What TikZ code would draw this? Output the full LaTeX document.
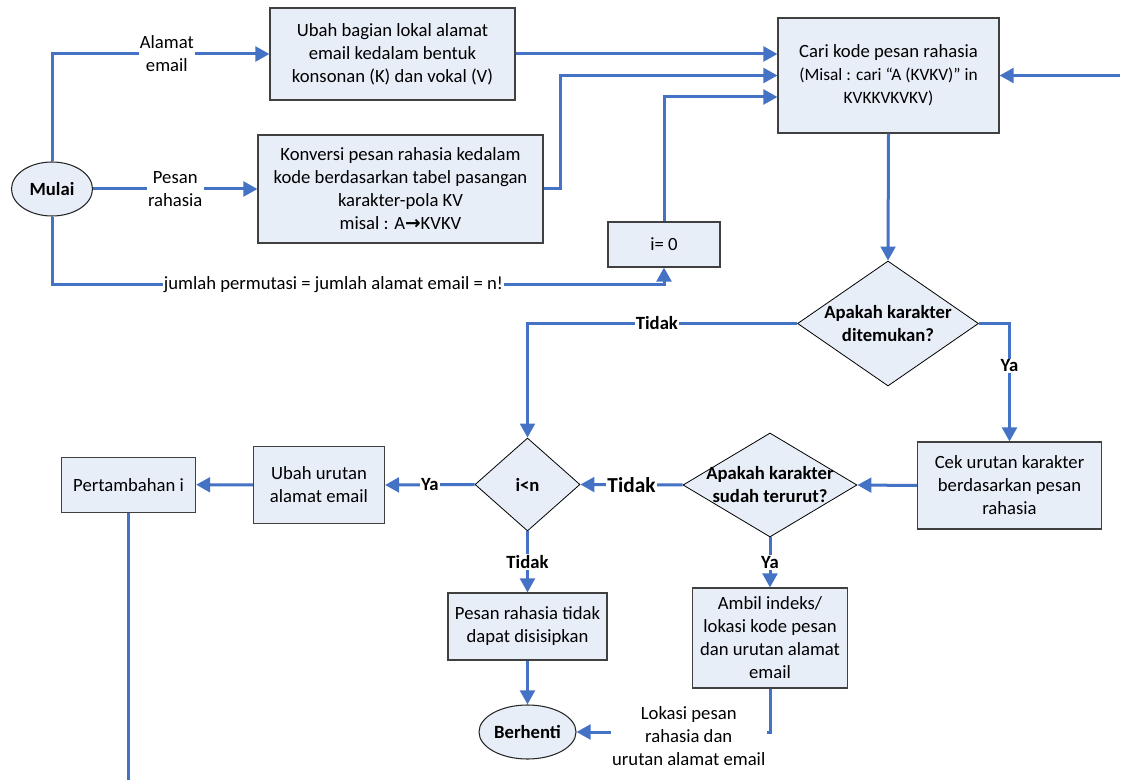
\documentclass[tikz,border=0pt]{standalone}
\usepackage{fontspec}
\setmainfont{Carlito}
\newfontfamily\symfont{DejaVu Sans}
\usetikzlibrary{arrows.meta,shapes.geometric,calc}
\definecolor{flowblue}{RGB}{68,114,196}
\definecolor{boxfill}{RGB}{232,238,248}
\tikzset{
  txt/.style={font=\fontsize{14}{17.25}\selectfont, align=center},
  procbox/.style={txt, draw=black!75, line width=0.8pt, fill=boxfill, inner sep=0pt},
  terminal/.style={txt, ellipse, draw=black!85, line width=0.8pt, fill=boxfill, inner sep=0pt, font=\fontsize{14}{17.25}\selectfont\bfseries},
  decision/.style={diamond, draw=black, line width=0.6pt, fill=boxfill, inner sep=0pt},
  dtext/.style={txt, font=\fontsize{14}{17.25}\selectfont\bfseries},
  wh/.style 2 args={minimum width=#1*0.75pt, minimum height=#2*0.75pt},
  flow/.style={draw=flowblue, line width=2.25pt, -{Triangle[length=10.5pt,width=11pt]}},
  plain/.style={draw=flowblue, line width=2.25pt},
  lbl/.style={txt, fill=white, inner sep=1pt},
  yn/.style={lbl, font=\fontsize{14}{17.25}\selectfont\bfseries},
}
\begin{document}
\begin{tikzpicture}[x=0.75pt,y=-0.75pt]
	\useasboundingbox (0,0) rectangle (1132,780);
	%Nodes
	\node[terminal, wh={81}{54}] (mulai) at (52,189) {Mulai};
	\node[procbox, wh={245}{92}] (ubahlokal) at (392.5,54) {Ubah bagian lokal alamat\\email kedalam bentuk\\konsonan (K) dan vokal (V)};
	\node[procbox, wh={285}{108}] (konversi) at (400.5,189) {Konversi pesan rahasia kedalam\\kode berdasarkan tabel pasangan\\karakter-pola KV\\misal : A{\symfont\bfseries →}KVKV};
	\node[procbox, wh={112}{45}] (izero) at (664,244.5) {i= 0};
	\node[procbox, wh={221}{115}] (cari) at (888.5,75.5) {Cari kode pesan rahasia\\{\fontsize{13}{16}\selectfont (Misal : cari “A (KVKV)” in}\\{\fontsize{13}{16}\selectfont KVKKVKVKV)}};
	\node[decision, wh={181}{125}] (found) at (888,323.5) {};
	\node[dtext] (foundtxt) at (found) {Apakah karakter\\ditemukan?};
	\node[procbox, wh={184}{87}] (cek) at (1009.5,485.5) {Cek urutan karakter\\berdasarkan pesan\\rahasia};
	\node[decision, wh={174}{104}] (sorted) at (770,485) {};
	\node[dtext] (sortedtxt) at (sorted) {Apakah karakter\\sudah terurut?};
	\node[procbox, wh={155.5}{100}] (ambil) at (770,638) {Ambil indeks/\\lokasi kode pesan\\dan urutan alamat\\email};
	\node[decision, wh={105}{93}] (ilessn) at (527.5,484.5) {};
	\node[dtext] (ilessntxt) at (ilessn) {i<n};
	\node[procbox, wh={131}{77}] (ubahurutan) at (319,485) {Ubah urutan\\alamat email};
	\node[procbox, wh={134}{55}] (tambah) at (128.6,484.7) {Pertambahan i};
	\node[procbox, wh={159}{67}] (gagal) at (527.5,626.5) {Pesan rahasia tidak\\dapat disisipkan};
	\node[terminal, wh={97}{54}] (berhenti) at (527.5,732) {Berhenti};
	\coordinate (loopin) at (1120,75.5);
	\coordinate (loopout) at (128.6,780);
	%Connectors
	\draw[flow] (mulai.north) |- node[lbl, pos=0.764] {Alamat\\email} (ubahlokal.west);
	\draw[flow] (mulai.east) -- node[lbl] {Pesan\\rahasia} (konversi.west);
	\draw[flow] (mulai.south) -- ++(0,68) -| node[lbl, pos=0.23] {jumlah permutasi = jumlah alamat email = n!} (izero.south);
	\draw[flow] (ubahlokal.east) -- (cari.west |- ubahlokal.east);
	\draw[flow] (konversi.east) -- ++(17,0) |- (cari.west);
	\draw[flow] (izero.north) |- ($(cari.west)+(0,21.5)$);
	\draw[flow] (loopin) -- (cari.east);
	\draw[flow] (cari.south) -- (found.north);
	\draw[flow] (found.east) -| node[yn, pos=0.68] {Ya} (cek.north);
	\draw[flow] (found.west) -| node[yn, pos=0.26] {Tidak} (ilessn.north);
	\draw[flow] (cek.west) -- (sorted.east);
	\draw[flow] (sorted.west) -- node[yn, font=\fontsize{16}{19}\selectfont\bfseries] {Tidak} (ilessn.east);
	\draw[flow] (sorted.south) -- node[yn] {Ya} (ambil.north);
	\draw[flow] (ambil.south) |- node[lbl, pos=0.71, yshift=-3pt] {Lokasi pesan\\rahasia dan\\urutan alamat email} (berhenti.east);
	\draw[flow] (ilessn.west) -- node[yn] {Ya} (ubahurutan.east);
	\draw[flow] (ubahurutan.west) -- (tambah.east);
	\draw[plain] (tambah.south) -- (loopout);
	\draw[flow] (ilessn.south) -- node[yn] {Tidak} (gagal.north);
	\draw[flow] (gagal.south) -- (berhenti.north);
\end{tikzpicture}
\end{document}
